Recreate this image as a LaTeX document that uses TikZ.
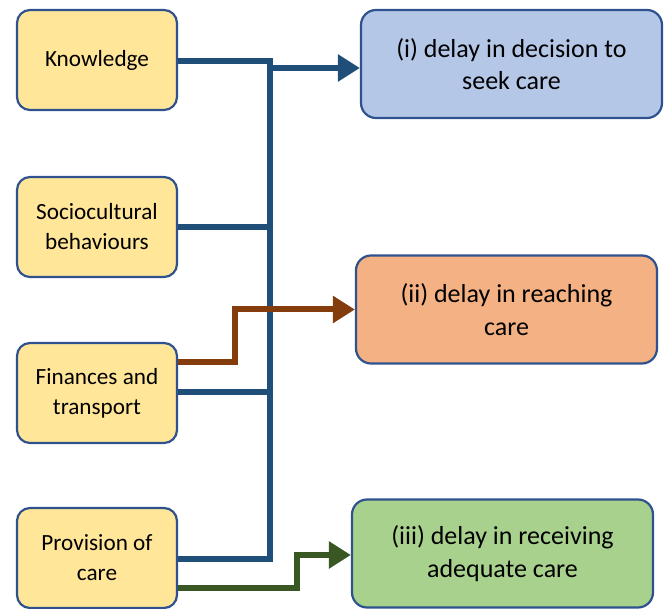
\documentclass[tikz,border=0pt]{standalone}
\usepackage{fontspec}
\setmainfont{Carlito}
\usetikzlibrary{arrows.meta}
\definecolor{boxline}{HTML}{2F528F}
\definecolor{factorfill}{HTML}{FFE699}
\definecolor{delayone}{HTML}{B4C7E7}
\definecolor{delaytwo}{HTML}{F4B183}
\definecolor{delaythree}{HTML}{A9D18E}
\definecolor{busblue}{HTML}{1F4E79}
\definecolor{linkbrown}{HTML}{843C0C}
\definecolor{linkgreen}{HTML}{385723}
\tikzset{
  factor/.style={draw=boxline, line width=2.2pt, fill=factorfill, rounded corners=13pt,
    minimum width=160pt, minimum height=100pt, align=center,
    font=\fontsize{23.2}{30}\selectfont},
  delay/.style={draw=boxline, line width=2.2pt, rounded corners=15pt,
    minimum width=301pt, minimum height=108pt, align=center,
    font=\fontsize{26}{32.5}\selectfont},
  link/.style={line width=6pt, miter limit=10},
  linkarrow/.style={link, -{Triangle[length=22pt,width=26pt]}}
}
\begin{document}
\begin{tikzpicture}[x=1pt, y=-1pt]
  \useasboundingbox (0,0) rectangle (665,609);

  % influencing factors
  \node[factor] (know) at (97,60) {Knowledge};
  \node[factor] (socio) at (97,227) {Sociocultural\\behaviours};
  \node[factor] (fin) at (97,393) {Finances and\\transport};
  \node[factor] (prov) at (97,558) {Provision of\\care};

  % the three delays
  \node[delay, fill=delayone] (d1) at (511.5,64) {(i) delay in decision to\\seek care};
  \node[delay, fill=delaytwo] (d2) at (506.5,309.5) {(ii) delay in reaching\\care};
  \node[delay, fill=delaythree] (d3) at (502.5,553.5) {(iii) delay in receiving\\adequate care};

  % common blue bus
  \coordinate (bustop) at (269.5,61);
  \coordinate (busbot) at (269.5,559);
  \coordinate (finjoin) at (269.5,392);
  \coordinate (arrowstart) at (269.5,68);
  \draw[link, busblue] (know.east |- bustop) -- (bustop) -- (busbot) -- (prov.east |- busbot);
  \draw[link, busblue] (socio.east) -- (socio.east -| bustop);
  \draw[link, busblue] (fin.east |- finjoin) -- (finjoin);
  \draw[linkarrow, busblue] (arrowstart) -- (d1.west |- arrowstart);

  % finances to reaching care
  \coordinate (fstep) at (235,362);
  \draw[linkarrow, linkbrown] (fin.east |- fstep) -- (fstep) -- (fstep |- d2.west) -- (d2.west);

  % provision to adequate care
  \coordinate (pstep) at (297,588);
  \coordinate (prise) at (297,555);
  \draw[linkarrow, linkgreen] (prov.east |- pstep) -- (pstep) -- (prise) -- (d3.west |- prise);
\end{tikzpicture}
\end{document}
